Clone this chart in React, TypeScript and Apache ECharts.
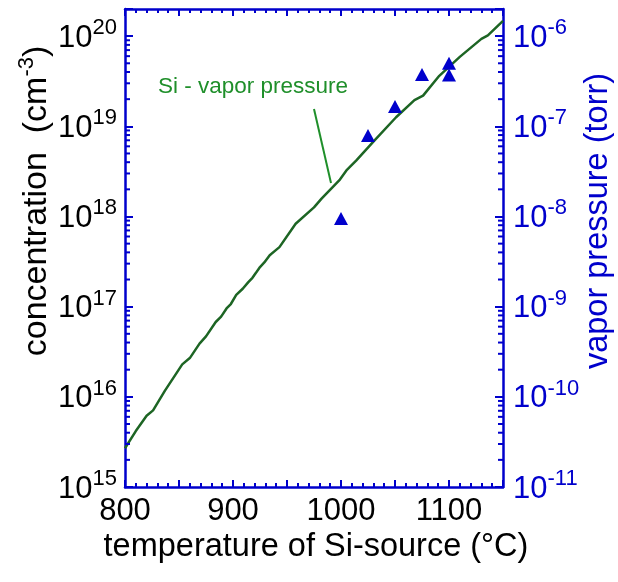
import React, { useEffect, useRef } from "react";
import * as echarts from "echarts";

// Si vapor-pressure curve (temperature °C -> concentration cm^-3)
const curveTemps = [800, 810, 820, 826, 837, 853, 860, 869, 875, 884, 889, 894, 898, 903, 909, 914, 918, 925, 929, 934, 943, 958, 975, 982, 999, 1005, 1014, 1030, 1051, 1068, 1076, 1091, 1110, 1130, 1136, 1150];
const curveConcentration = [2.69e15, 4.17e15, 6.17e15, 7.08e15, 1.17e16, 2.29e16, 2.69e16, 3.89e16, 4.68e16, 6.76e16, 7.76e16, 9.55e16, 1.07e17, 1.35e17, 1.58e17, 1.86e17, 2.09e17, 2.75e17, 3.09e17, 3.72e17, 4.57e17, 8.32e17, 1.26e18, 1.58e18, 2.57e18, 3.24e18, 4.17e18, 6.76e18, 1.26e19, 1.95e19, 2.19e19, 3.63e19, 5.89e19, 9.33e19, 1.02e20, 1.48e20];

// measured points (temperature °C -> vapor pressure torr)
const pointTemps = [1000, 1025, 1050, 1075, 1100, 1100];
const pointPressure = [9.5e-9, 7.9e-8, 1.66e-7, 3.76e-7, 5.0e-7, 3.7e-7];

const xMin = 800;
const xMax = 1150;
const leftMin = 1e15;
const leftMax = 2e20;
const rightMin = 1e-11;
const rightMax = 2e-6;
const minorMultipliers = [2, 3, 4, 5, 6, 7, 8, 9];

const FONT = "'Liberation Sans', Arial, Helvetica, sans-serif";
const BLUE = "#0000cc";
const LINE_GREEN = "#1d6524";
const TEXT_GREEN = "#1f8f2a";

function decadeLabel(v: number) {
  const e = Math.round(Math.log10(v));
  if (Math.abs(Math.log10(v) - e) > 0.01) return "";
  return `{b|10}{s|${e}}`;
}

export default function App() {
  const ref = useRef<HTMLDivElement>(null);
  useEffect(() => {
    if (!ref.current) return;
    const chart = echarts.init(ref.current, undefined, { renderer: "svg" });

    const minorTicks: number[][] = [];
    for (let d = 15; d <= 20; d++) {
      for (const m of minorMultipliers) {
        const v = m * Math.pow(10, d);
        if (v < leftMax) minorTicks.push([xMin, v]);
      }
    }

    const rich = {
      b: { fontSize: 31, fontFamily: FONT, verticalAlign: "bottom", lineHeight: 31 },
      s: { fontSize: 22, fontFamily: FONT, verticalAlign: "bottom", lineHeight: 22, padding: [0, 0, 14, 0] },
    };

    const xCommon = {
      type: "value",
      min: xMin,
      max: xMax,
      interval: 50,
      splitLine: { show: false },
      axisLine: { show: true, onZero: false, lineStyle: { color: BLUE, width: 2.5 } },
      axisTick: { show: true, inside: true, length: 7, lineStyle: { color: BLUE, width: 2 } },
      minorTick: { show: true, splitNumber: 5, length: 4, lineStyle: { color: BLUE, width: 2 } },
    };

    const option: any = {
      animation: false,
      grid: { left: 125, right: 115, top: 9, height: 478, containLabel: false },
      xAxis: [
        {
          ...xCommon,
          position: "bottom",
          axisLabel: {
            show: true,
            margin: 8,
            fontSize: 31,
            lineHeight: 28,
            fontFamily: FONT,
            color: "#000",
            formatter: (v: number) => (v % 100 === 0 ? String(v) : ""),
          },
        },
        {
          ...xCommon,
          position: "top",
          axisLabel: { show: false },
        },
      ],
      yAxis: [
        {
          type: "log",
          logBase: 10,
          min: leftMin,
          max: leftMax,
          position: "left",
          splitLine: { show: false },
          axisLine: { show: true, lineStyle: { color: BLUE, width: 2.5 } },
          axisTick: { show: true, inside: true, length: 8, lineStyle: { color: BLUE, width: 2 } },
          axisLabel: { margin: 8, color: "#000", formatter: decadeLabel, rich },
        },
        {
          type: "log",
          logBase: 10,
          min: rightMin,
          max: rightMax,
          position: "right",
          splitLine: { show: false },
          axisLine: { show: true, lineStyle: { color: BLUE, width: 2.5 } },
          axisTick: { show: true, inside: true, length: 8, lineStyle: { color: BLUE, width: 2 } },
          axisLabel: {
            margin: 10,
            color: BLUE,
            formatter: decadeLabel,
            rich: {
              b: { ...rich.b, color: BLUE },
              s: { ...rich.s, color: BLUE },
            },
          },
        },
      ],
      series: [
        {
          type: "custom",
          xAxisIndex: 0,
          yAxisIndex: 0,
          silent: true,
          clip: false,
          z: 5,
          data: minorTicks,
          renderItem: (params: any, api: any) => {
            const v = api.value(1);
            const pL = api.coord([xMin, v]);
            const pR = api.coord([xMax, v]);
            return {
              type: "group",
              children: [
                { type: "line", shape: { x1: pL[0], y1: pL[1], x2: pL[0] + 5, y2: pL[1] }, style: { stroke: BLUE, lineWidth: 2 } },
                { type: "line", shape: { x1: pR[0], y1: pR[1], x2: pR[0] - 5, y2: pR[1] }, style: { stroke: BLUE, lineWidth: 2 } },
              ],
            };
          },
        },
        {
          type: "line",
          xAxisIndex: 0,
          yAxisIndex: 0,
          data: curveTemps.map((t, i) => [t, curveConcentration[i]]),
          showSymbol: false,
          symbol: "none",
          lineStyle: { color: LINE_GREEN, width: 2.5 },
          silent: true,
          z: 3,
        },
        {
          type: "scatter",
          xAxisIndex: 0,
          yAxisIndex: 1,
          data: pointTemps.map((t, i) => [t, pointPressure[i]]),
          symbol: "triangle",
          symbolSize: [14, 13],
          itemStyle: { color: BLUE, opacity: 1 },
          silent: true,
          z: 4,
        },
      ],
      graphic: [
        {
          type: "text",
          left: 158,
          top: 74,
          style: { text: "Si - vapor pressure", fontSize: 22.5, fontFamily: FONT, fill: TEXT_GREEN },
        },
        {
          type: "line",
          shape: { x1: 314, y1: 109, x2: 331, y2: 183 },
          style: { stroke: TEXT_GREEN, lineWidth: 2 },
        },
        {
          type: "text",
          x: 316,
          y: 545,
          style: {
            text: "temperature of Si-source (°C)",
            fontSize: 32.5,
            fontFamily: FONT,
            fill: "#000",
            align: "center",
            verticalAlign: "middle",
          },
        },
        {
          type: "text",
          x: 34,
          y: 201,
          rotation: Math.PI / 2,
          style: {
            text: "{n|concentration  (cm}{s|-3}{n|)}",
            fill: "#000",
            align: "center",
            verticalAlign: "middle",
            rich: {
              n: { fontSize: 34, fontFamily: FONT, verticalAlign: "bottom", lineHeight: 34 },
              s: { fontSize: 22, fontFamily: FONT, verticalAlign: "bottom", lineHeight: 22, padding: [0, 0, 15, 0] },
            },
          },
        },
        {
          type: "text",
          x: 596,
          y: 221,
          rotation: Math.PI / 2,
          style: {
            text: "vapor pressure (torr)",
            fontSize: 32.5,
            fontFamily: FONT,
            fill: BLUE,
            align: "center",
            verticalAlign: "middle",
          },
        },
      ],
    };

    chart.setOption(option);
    return () => chart.dispose();
  }, []);

  return <div ref={ref} style={{ position: "fixed", left: 0, top: 0, width: 618, height: 582 }} />;
}
